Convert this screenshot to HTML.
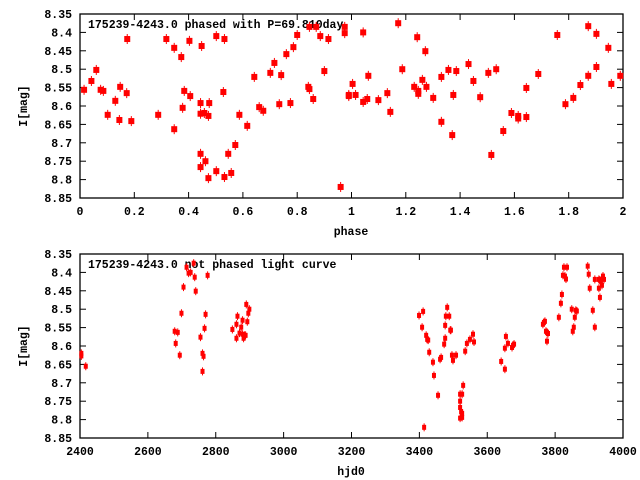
<!DOCTYPE html>
<html><head><meta charset="utf-8"><style>
html,body{margin:0;padding:0;background:#fff;}
svg{display:block;font-family:"Liberation Mono",monospace;font-weight:bold;font-size:11.5px;}
</style></head><body>
<svg id="chart" width="640" height="480" viewBox="0 0 640 480" xmlns="http://www.w3.org/2000/svg">
<rect width="640" height="480" fill="#fff"/>
<g id="top"></g>
<g id="bot"></g>
</svg>
<script>
const phaseVals=[.015,.042,.06,.076,.086,.102,.13,.145,.148,.172,.174,.189,.288,.318,.347,.347,.373,.378,.384,.403,.406,.444,.444,.444,.444,.448,.458,.462,.473,.473,.476,.502,.502,.528,.532,.532,.546,.557,.572,.587,.616,.642,.66,.675,.701,.716,.734,.741,.76,.775,.786,.8,.841,.845,.845,.859,.87,.885,.9,.915,.96,.975,.975,.99,.99,1.004,1.015,1.043,1.043,1.058,1.062,1.099,1.132,1.143,1.172,1.187,1.231,1.242,1.246,1.246,1.261,1.272,1.276,1.301,1.331,1.331,1.357,1.371,1.375,1.386,1.431,1.449,1.474,1.504,1.515,1.533,1.559,1.589,1.614,1.614,1.644,1.644,1.688,1.758,1.788,1.817,1.843,1.872,1.872,1.902,1.902,1.946,1.957,1.99];
const phaseMags=[8.556,8.532,8.502,8.556,8.559,8.624,8.586,8.638,8.548,8.565,8.418,8.641,8.624,8.418,8.442,8.663,8.467,8.605,8.559,8.423,8.573,8.592,8.621,8.73,8.766,8.437,8.619,8.75,8.627,8.796,8.592,8.41,8.777,8.562,8.418,8.793,8.73,8.782,8.706,8.624,8.654,8.521,8.603,8.613,8.51,8.483,8.595,8.516,8.459,8.592,8.44,8.407,8.548,8.554,8.385,8.581,8.385,8.41,8.505,8.418,8.82,8.385,8.402,8.57,8.573,8.54,8.57,8.4,8.589,8.581,8.518,8.584,8.565,8.616,8.375,8.5,8.548,8.413,8.559,8.567,8.529,8.451,8.548,8.578,8.521,8.643,8.502,8.679,8.57,8.505,8.486,8.532,8.576,8.51,8.733,8.5,8.668,8.619,8.627,8.634,8.63,8.551,8.513,8.407,8.595,8.578,8.543,8.383,8.518,8.404,8.494,8.442,8.54,8.518];
const hjdVals=[2404,2404,2417,2679,2688,2682,2694,2699,2705,2714,2720,2726,2735,2738,2741,2755,2761,2764,2761,2767,2770,2776,2849,2861,2861,2864,2870,2875,2879,2879,2882,2885,2888,2890,2893,2896,2899,3399,3408,3411,3414,3420,3423,3426,3429,3440,3443,3455,3461,3464,3473,3476,3476,3478,3482,3488,3491,3493,3496,3499,3508,3520,3526,3520,3520,3523,3526,3520,3526,3529,3535,3540,3549,3558,3561,3641,3652,3655,3652,3661,3673,3676,3679,3764,3767,3770,3773,3776,3779,3776,3811,3817,3820,3823,3826,3829,3832,3835,3849,3852,3855,3858,3861,3864,3896,3899,3902,3911,3917,3917,3929,3929,3932,3932,3935,3938,3941,3944];
const hjdMags=[8.62,8.627,8.655,8.56,8.563,8.593,8.625,8.511,8.44,8.386,8.402,8.4,8.375,8.413,8.451,8.576,8.62,8.628,8.669,8.552,8.514,8.408,8.555,8.541,8.579,8.519,8.565,8.549,8.53,8.568,8.579,8.571,8.571,8.487,8.534,8.511,8.5,8.517,8.549,8.506,8.821,8.571,8.582,8.584,8.617,8.644,8.68,8.734,8.636,8.631,8.595,8.579,8.544,8.519,8.495,8.519,8.557,8.557,8.625,8.639,8.625,8.731,8.731,8.75,8.767,8.778,8.783,8.796,8.794,8.707,8.614,8.593,8.582,8.568,8.589,8.642,8.606,8.574,8.663,8.593,8.604,8.598,8.595,8.541,8.536,8.533,8.56,8.563,8.566,8.587,8.522,8.484,8.46,8.408,8.386,8.41,8.418,8.386,8.5,8.56,8.549,8.522,8.503,8.505,8.383,8.405,8.443,8.503,8.549,8.419,8.419,8.443,8.468,8.421,8.424,8.435,8.41,8.419];
const yTicks=["8.35","8.4","8.45","8.5","8.55","8.6","8.65","8.7","8.75","8.8","8.85"];
const phaseTicks=["0","0.2","0.4","0.6","0.8","1","1.2","1.4","1.6","1.8","2"];
const hjdTicks=["2400","2600","2800","3000","3200","3400","3600","3800","4000"];
const NS="http://www.w3.org/2000/svg";
function mk(parent,tag,attrs){const e=document.createElementNS(NS,tag);for(const k in attrs)e.setAttribute(k,attrs[k]);parent.appendChild(e);return e;}
function panel(g,o){
  const L=80,R=623,T=o.top,B=o.top+184;
  const sx=v=>L+(v-o.xmin)/(o.xmax-o.xmin)*(R-L);
  const sy=v=>T+(v-8.35)/0.5*(B-T);
  const box=mk(g,'rect',{x:L,y:T,width:R-L,height:B-T,fill:'none',stroke:'#000','stroke-width':1.3});
  
  
  yTicks.forEach(t=>{const y=sy(parseFloat(t));
    mk(g,'line',{x1:L,x2:L+6,y1:y,y2:y,stroke:'#000'});mk(g,'line',{x1:R,x2:R-6,y1:y,y2:y,stroke:'#000'});
    const tx=mk(g,'text',{x:72,y:y+4,'text-anchor':'end'});tx.textContent=t;
    
    });
  o.xt.forEach(t=>{const x=sx(parseFloat(t));
    mk(g,'line',{x1:x,x2:x,y1:B,y2:B-6,stroke:'#000'});mk(g,'line',{x1:x,x2:x,y1:T,y2:T+6,stroke:'#000'});
    const tx=mk(g,'text',{x:x,y:B+17,'text-anchor':'middle'});tx.textContent=t;
    
    });
  const yl=mk(g,'text',{x:0,y:0,'text-anchor':'middle',transform:`translate(27,${(T+B)/2}) rotate(-90)`});yl.textContent='I[mag]';
  
  
  const xl=mk(g,'text',{x:351,y:B+37,'text-anchor':'middle'});xl.textContent=o.xlabel;
  
  
  const ti=mk(g,'text',{x:88,y:T+14});ti.textContent=o.title;
  
  
  o.xs.forEach((v,i)=>{const x=sx(v),y=sy(o.ys[i]);
    const p=mk(g,'g',{});
    
    
    mk(p,'line',{x1:x,x2:x,y1:y-o.eh,y2:y+o.eh,stroke:'#f00','stroke-width':1});
    mk(p,'rect',{x:x-o.w/2,y:y-o.h/2,width:o.w,height:o.h,fill:'#f00'});});
}
panel(document.getElementById('top'),{top:14,xmin:0,xmax:2,xt:phaseTicks,xs:phaseVals,ys:phaseMags,xlabel:'phase',title:'175239-4243.0 phased with P=69.810day',w:6,h:6,eh:5});
panel(document.getElementById('bot'),{top:254,xmin:2400,xmax:4000,xt:hjdTicks,xs:hjdVals,ys:hjdMags,xlabel:'hjd0',title:'175239-4243.0 not phased light curve',w:4,h:5,eh:4});
</script>
</body></html>
